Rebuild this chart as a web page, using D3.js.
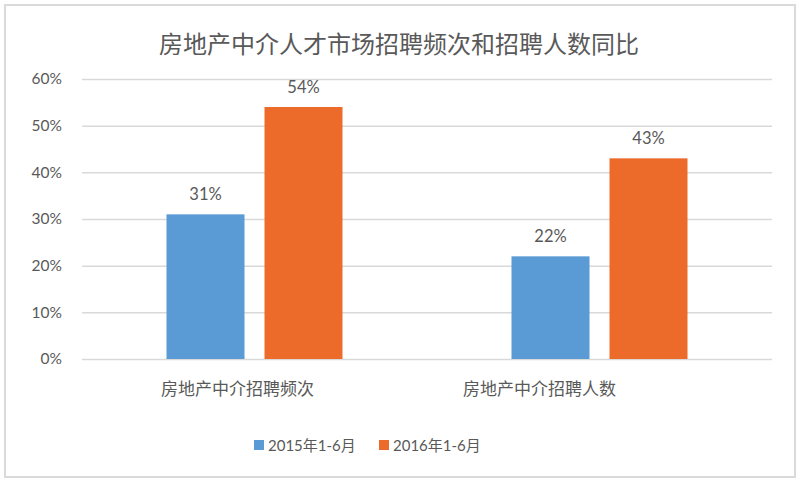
<!DOCTYPE html>
<html>
<head>
<meta charset="utf-8">
<script src="https://cdn.jsdelivr.net/npm/d3@7"></script>
<style>
  body { margin: 0; background: #fff; }
  text { font-family: "Lato", "Noto Sans CJK SC", sans-serif; fill: #595959; }
  .cjk { font-family: "Noto Sans CJK SC", sans-serif; }
  .grid line { stroke: #d9d9d9; stroke-width: 1.5; }
</style>
</head>
<body>
<div id="chart"></div>
<script>
// datos
const categorias = ["房地产中介招聘频次", "房地产中介招聘人数"];
const series = ["2015年1-6月", "2016年1-6月"];
const valores2015 = [31, 22];
const valores2016 = [54, 43];
const ticksY = [0, 10, 20, 30, 40, 50, 60];
const titulo = "房地产中介人才市场招聘频次和招聘人数同比";

const anchoTotal = 799, altoTotal = 483;
const margins = { left: 82, top: 79, right: 27, bottom: 124 };
const ancho = anchoTotal - margins.left - margins.right;
const alto = altoTotal - margins.top - margins.bottom;
const colores = ["#5b9bd5", "#ed6b2a"];

const svg = d3.select("#chart").append("svg")
  .attr("width", anchoTotal)
  .attr("height", altoTotal);

// marco
svg.append("rect")
  .attr("x", 5).attr("y", 5)
  .attr("width", 790).attr("height", 472)
  .attr("fill", "#fff")
  .attr("stroke", "#dadada")
  .attr("stroke-width", 2);

svg.append("text")
  .attr("class", "cjk")
  .attr("x", 399).attr("y", 53)
  .attr("text-anchor", "middle")
  .attr("font-size", 24)
  .text(titulo);

const g = svg.append("g")
  .attr("transform", `translate(${margins.left}, ${margins.top})`);

const y = d3.scaleLinear().domain([0, 60]).range([alto, 0]);
const x = d3.scaleBand().domain(categorias).range([0, ancho]);
const xs = d3.scaleBand().domain(series).range([0, 176]).paddingInner(20 / 98);

// rejilla
g.append("g")
  .attr("class", "grid")
  .call(d3.axisLeft(y).tickValues(ticksY).tickSize(-ancho).tickFormat(""))
  .call(a => a.select(".domain").remove());

// eje y
g.append("g")
  .call(d3.axisLeft(y).tickValues(ticksY).tickSize(0).tickPadding(20).tickFormat(d => d + "%"))
  .call(a => a.select(".domain").remove())
  .selectAll("text")
  .attr("font-size", 15.5)
  .attr("fill", "#595959")
  .style("font-family", "Lato, sans-serif");

// eje x
const desplaz = [-17, -60];
g.append("g")
  .attr("transform", `translate(0, ${alto})`)
  .call(d3.axisBottom(x).tickSize(0).tickPadding(24))
  .call(a => a.select(".domain").remove())
  .selectAll("text")
  .attr("class", "cjk")
  .attr("font-size", 17)
  .attr("fill", "#595959")
  .attr("dx", (d, i) => desplaz[i]);

const datos = [];
categorias.forEach((c, i) => {
  datos.push({ cat: c, serie: series[0], v: valores2015[i] });
  datos.push({ cat: c, serie: series[1], v: valores2016[i] });
});

const offset = (x.bandwidth() - 176) / 2;
const barX = d => x(d.cat) + offset + xs(d.serie);

g.append("g").selectAll("rect")
  .data(datos)
  .join("rect")
  .attr("x", barX)
  .attr("y", d => y(d.v))
  .attr("width", xs.bandwidth())
  .attr("height", d => alto - y(d.v))
  .attr("fill", d => colores[series.indexOf(d.serie)]);

g.append("g").selectAll("text")
  .data(datos)
  .join("text")
  .attr("x", d => barX(d) + xs.bandwidth() / 2)
  .attr("y", d => y(d.v) - 14)
  .attr("text-anchor", "middle")
  .attr("font-size", 16.5)
  .attr("fill", "#404040")
  .text(d => d.v + "%");

// leyenda
const leyenda = svg.append("g").attr("transform", "translate(254, 445)");
const posLey = [0, 125];
series.forEach((s, i) => {
  const it = leyenda.append("g").attr("transform", `translate(${posLey[i]}, 0)`);
  it.append("rect").attr("x", 0).attr("y", -5).attr("width", 10).attr("height", 10).attr("fill", colores[i]);
  it.append("text").attr("x", 14).attr("y", 5.5).attr("font-size", 15).attr("fill", "#595959").text(s);
});
</script>
</body>
</html>
